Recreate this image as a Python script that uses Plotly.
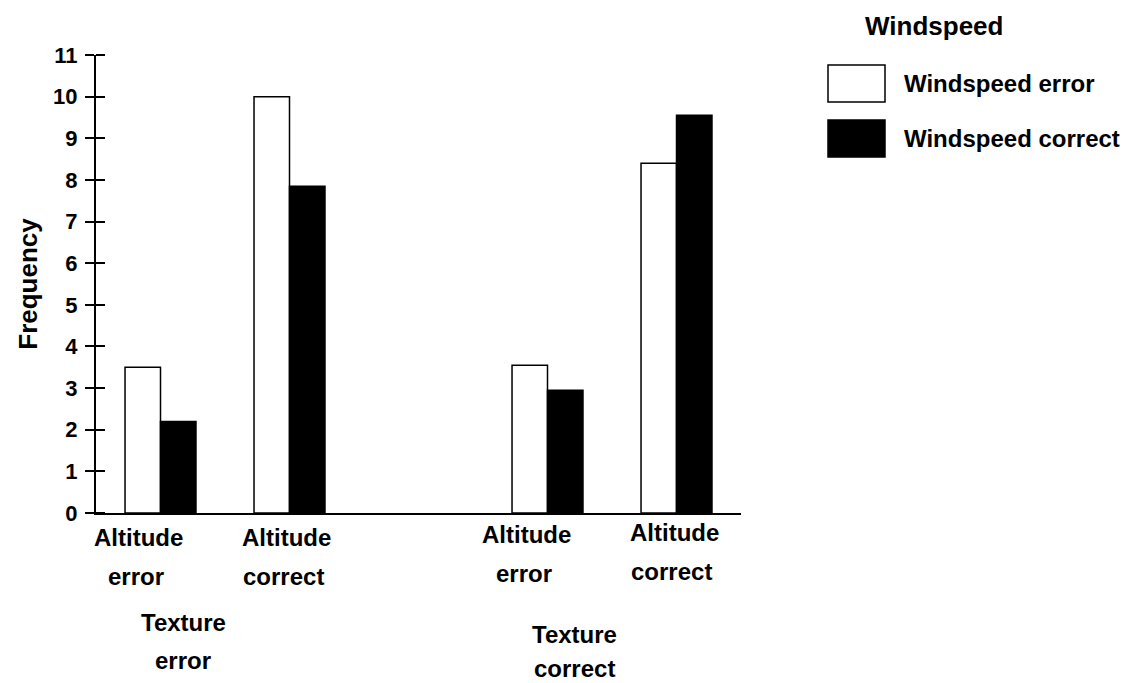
import plotly.graph_objects as go

# ---- data ----
group_pos = [0, 1, 3, 4]
windspeed_error = [3.5, 10.0, 3.55, 8.4]
windspeed_correct = [2.2, 7.85, 2.95, 9.55]
series_names = ["Windspeed error", "Windspeed correct"]
altitude_line1 = ["Altitude", "Altitude", "Altitude", "Altitude"]
altitude_line2 = ["error", "correct", "error", "correct"]
texture_groups = [["Texture", "error"], ["Texture", "correct"]]
y_ticks = list(range(0, 12))

FONT = "Liberation Sans, Arial, sans-serif"
OFF = 8  # default page body margin
W, H = 1133 - OFF, 683 - OFF
L, R, T, B = 96, 741, 55, 513  # plot area in page px
TICK = 9


def fx(p):
    return (p - L) / (R - L)


def fy(p):
    return (B - p) / (B - T)


def bold(size):
    return dict(family=FONT, size=size, color="black", weight="bold")


fig = go.Figure()
fig.add_trace(go.Bar(x=group_pos, y=windspeed_error, name=series_names[0],
                     marker=dict(color="white", line=dict(color="black", width=1.5)),
                     showlegend=False))
fig.add_trace(go.Bar(x=group_pos, y=windspeed_correct, name=series_names[1],
                     marker=dict(color="black", line=dict(color="black", width=1.5)),
                     showlegend=False))
# empty helper trace so the inner-tick axis is drawn
fig.add_trace(go.Scatter(x=[None], y=[None], yaxis="y2", mode="markers",
                         showlegend=False, hoverinfo="skip"))

annotations = []
# category labels (two lines each)
shifts1 = [-22, -3, -21, -2]
ypix1 = [537, 537, 534, 532]
ypix2 = [576, 576, 573, 571]
for i, g in enumerate(group_pos):
    annotations.append(dict(x=g, xref="x", y=fy(ypix1[i]), yref="paper", xshift=shifts1[i],
                            text=altitude_line1[i], showarrow=False, xanchor="center",
                            yanchor="middle", font=bold(24)))
    annotations.append(dict(x=g, xref="x", y=fy(ypix2[i]), yref="paper", xshift=shifts1[i] - 3,
                            text=altitude_line2[i], showarrow=False, xanchor="center",
                            yanchor="middle", font=bold(24)))
# texture group labels
tex_x = [183, 574]
tex_y1 = [622, 634]
tex_y2 = [660, 668]
for i, tg in enumerate(texture_groups):
    annotations.append(dict(x=fx(tex_x[i]), xref="paper", y=fy(tex_y1[i]), yref="paper",
                            text=tg[0], showarrow=False, xanchor="center", yanchor="middle",
                            font=bold(24)))
    annotations.append(dict(x=fx(tex_x[i]), xref="paper", y=fy(tex_y2[i]), yref="paper",
                            text=tg[1], showarrow=False, xanchor="center", yanchor="middle",
                            font=bold(24)))

# custom legend
annotations.append(dict(x=fx(934), xref="paper", y=fy(26), yref="paper", text="Windspeed",
                        showarrow=False, yanchor="middle", xanchor="center", font=bold(26)))
legend_fill = ["white", "black"]
box_top = [65, 120]
shapes = []
for i, name in enumerate(series_names):
    shapes.append(dict(type="rect", xref="paper", yref="paper",
                       x0=fx(828), x1=fx(885), y0=fy(box_top[i]), y1=fy(box_top[i] + 37),
                       fillcolor=legend_fill[i], line=dict(color="black", width=1.5)))
    annotations.append(dict(x=fx(902), xref="paper", y=fy(box_top[i] + 18), yref="paper",
                            text=name, showarrow=False, xanchor="left", yanchor="middle",
                            font=bold(24)))

fig.update_layout(
    width=W, height=H,
    margin=dict(l=L - OFF, r=W - (R - OFF), t=T - OFF, b=H - (B - OFF), pad=0),
    paper_bgcolor="white", plot_bgcolor="white",
    barmode="group", bargap=0.45, bargroupgap=0,
    showlegend=False,
    annotations=annotations,
    shapes=shapes,
    xaxis=dict(range=[-0.5, 4.5], showline=True, linecolor="black", linewidth=2,
               showticklabels=False, ticks="", showgrid=False, zeroline=False),
    yaxis=dict(range=[0, 11], tickvals=y_ticks, showline=True, linecolor="black", linewidth=2,
               ticks="outside", ticklen=TICK, tickwidth=1.5, tickcolor="black",
               ticklabelstandoff=3,
               showgrid=False, zeroline=False,
               tickfont=bold(22),
               title=dict(text="Frequency", standoff=8, font=bold(26))),
    # second axis, offset to the right of the main axis line, gives the inner half of the crossing ticks
    yaxis2=dict(range=[0, 11], tickvals=y_ticks, overlaying="y", side="left",
                anchor="free", position=fx(L + TICK),
                ticks="outside", ticklen=TICK, tickwidth=1.5, tickcolor="black",
                showticklabels=False, showline=False, showgrid=False, zeroline=False),
)

fig.write_html("out.html")
